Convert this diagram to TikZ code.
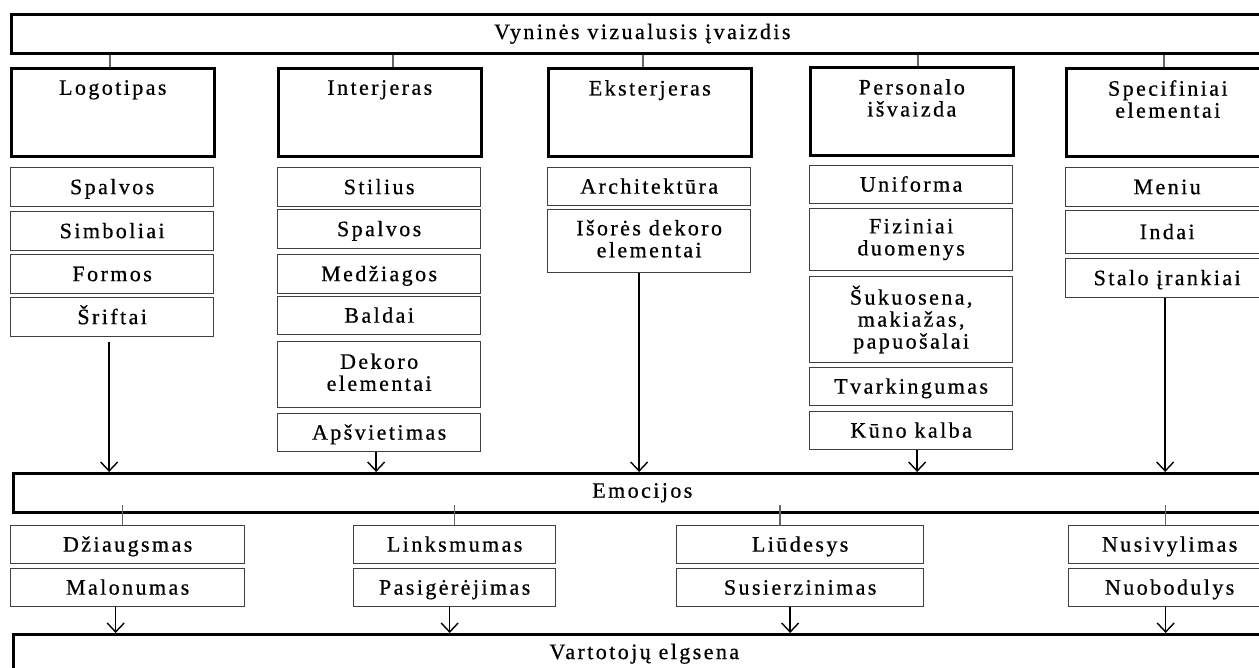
\documentclass[tikz,border=0pt]{standalone}
\usepackage{fontspec}
\setmainfont{Liberation Serif}[LetterSpace=11, FakeBold=0.6]
\usetikzlibrary{arrows.meta}

\begin{document}
\begin{tikzpicture}[x=1pt, y=-1pt,
	font=\fontsize{22}{22}\selectfont,
	mainbox/.style={draw, line width=2.6pt, anchor=north west, inner sep=0pt, minimum height=39pt},
	headbox/.style={draw, line width=2.6pt, anchor=north west, inner sep=0pt, minimum width=203pt, minimum height=88pt},
	subbox/.style={draw=black!75, line width=1.3pt, anchor=north west, inner sep=0pt, minimum width=203pt, align=center,
		execute at begin node=\rule{0pt}{19pt}, execute at end node=\rule[-5pt]{0pt}{5pt}},
	head/.style={anchor=north, inner sep=0pt, yshift=-13pt, align=center},
	tick/.style={draw=black!60, line width=1.6pt},
	arr/.style={-{Straight Barb[length=9pt, width=17pt]}, line width=1.4pt}]

	\useasboundingbox (0,0) rectangle (1259,668);
	\clip (0,0) rectangle (1259,668);

	\node[mainbox, minimum width=1262pt] (title) at (10,13) {Vyninės vizualusis įvaizdis};

	\node[headbox, label={[head]north:Logotipas}] (logo) at (10,67) {};
	\node[headbox, label={[head]north:Interjeras}] (inter) at (277,67) {};
	\node[headbox, label={[head]north:Eksterjeras}] (eks) at (547,67) {};
	\node[headbox, label={[head]north:Personalo\\išvaizda}] (pers) at (809,66) {};
	\node[headbox, label={[head]north:Specifiniai\\elementai}] (spec) at (1065,67) {};

	\draw[tick] ([xshift=-3pt]logo.north) -- ([xshift=-3pt]logo.north |- title.south);
	\draw[tick] ([xshift=13pt]inter.north) -- ([xshift=13pt]inter.north |- title.south);
	\draw[tick] ([xshift=-7pt]eks.north) -- ([xshift=-7pt]eks.north |- title.south);
	\draw[tick] ([xshift=6pt]pers.north) -- ([xshift=6pt]pers.north |- title.south);
	\draw[tick] ([xshift=-4pt]spec.north) -- ([xshift=-4pt]spec.north |- title.south);

	\node[subbox, minimum height=39pt] (lspa) at (10,167) {Spalvos};
	\node[subbox, minimum height=39pt] (lsim) at (10,211) {Simboliai};
	\node[subbox, minimum height=39pt] (lfor) at (10,254) {Formos};
	\node[subbox, minimum height=39pt] (lsri) at (10,297) {Šriftai};

	\node[subbox, minimum height=39pt] (isti) at (277,167) {Stilius};
	\node[subbox, minimum height=39pt] (ispa) at (277,209) {Spalvos};
	\node[subbox, minimum height=39pt] (imed) at (277,254) {Medžiagos};
	\node[subbox, minimum height=38pt] (ibal) at (277,296) {Baldai};
	\node[subbox, minimum height=66pt] (idek) at (277,341) {Dekoro\\elementai};
	\node[subbox, minimum height=38pt] (iaps) at (277,413) {Apšvietimas};

	\node[subbox, minimum height=38pt] (earc) at (547,167) {Architektūra};
	\node[subbox, minimum height=63pt] (eisr) at (547,209) {Išorės dekoro\\elementai};

	\node[subbox, minimum height=38pt] (puni) at (809,165) {Uniforma};
	\node[subbox, minimum height=62pt] (pfiz) at (809,208) {Fiziniai\\duomenys};
	\node[subbox, minimum height=86pt] (psuk) at (809,276) {Šukuosena,\\makiažas,\\papuošalai};
	\node[subbox, minimum height=38pt] (ptva) at (809,367) {Tvarkingumas};
	\node[subbox, minimum height=38pt] (pkun) at (809,411) {Kūno kalba};

	\node[subbox, minimum height=39pt] (smen) at (1065,167) {Meniu};
	\node[subbox, minimum height=43pt] (sind) at (1065,210) {Indai};
	\node[subbox, minimum height=39pt] (ssta) at (1065,258) {Stalo įrankiai};

	\node[mainbox, minimum width=1258pt] (emo) at (12,472) {Emocijos};

	\draw[arr] ([xshift=-3pt,yshift=-5pt]lsri.south) -- ([xshift=-3pt]lsri.south |- emo.north);
	\draw[arr] ([xshift=-3pt]iaps.south) -- ([xshift=-3pt]iaps.south |- emo.north);
	\draw[arr] ([xshift=-10pt]eisr.south) -- ([xshift=-10pt]eisr.south |- emo.north);
	\draw[arr] ([xshift=6pt]pkun.south) -- ([xshift=6pt]pkun.south |- emo.north);
	\draw[arr] ([xshift=-2pt]ssta.south) -- ([xshift=-2pt]ssta.south |- emo.north);

	\node[subbox, minimum width=234pt, minimum height=38pt] (dzi) at (10,525) {Džiaugsmas};
	\node[subbox, minimum width=234pt, minimum height=38pt] (mal) at (10,568) {Malonumas};
	\node[subbox, minimum width=202pt, minimum height=38pt] (lin) at (353,525) {Linksmumas};
	\node[subbox, minimum width=202pt, minimum height=38pt] (pas) at (353,568) {Pasigėrėjimas};
	\node[subbox, minimum width=247pt, minimum height=38pt] (liu) at (676,525) {Liūdesys};
	\node[subbox, minimum width=247pt, minimum height=38pt] (sus) at (676,568) {Susierzinimas};
	\node[subbox, minimum width=202pt, minimum height=38pt] (nus) at (1068,525) {Nusivylimas};
	\node[subbox, minimum width=202pt, minimum height=38pt] (nuo) at (1068,568) {Nuobodulys};

	\draw[tick] ([xshift=-5pt]dzi.north) -- ([xshift=-5pt,yshift=9pt]dzi.north |- emo.south);
	\draw[tick] (lin.north) -- ([yshift=9pt]lin.north |- emo.south);
	\draw[tick] ([xshift=-20pt]liu.north) -- ([xshift=-20pt,yshift=9pt]liu.north |- emo.south);
	\draw[tick] ([xshift=-4pt]nus.north) -- ([xshift=-4pt,yshift=9pt]nus.north |- emo.south);

	\node[mainbox, minimum width=1262pt] (var) at (12,633) {Vartotojų elgsena};

	\draw[arr] ([xshift=-12pt]mal.south) -- ([xshift=-12pt]mal.south |- var.north);
	\draw[arr] ([xshift=-5pt]pas.south) -- ([xshift=-5pt]pas.south |- var.north);
	\draw[arr] ([xshift=-10pt]sus.south) -- ([xshift=-10pt]sus.south |- var.north);
	\draw[arr] ([xshift=-4pt]nuo.south) -- ([xshift=-4pt]nuo.south |- var.north);

\end{tikzpicture}
\end{document}
